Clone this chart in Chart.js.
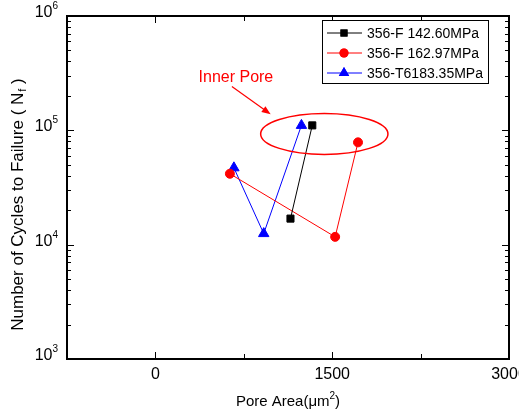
<!DOCTYPE html>
<html>
<head>
<meta charset="utf-8">
<script src="https://cdn.jsdelivr.net/npm/chart.js@4/dist/chart.umd.min.js"></script>
<style>
body{margin:0;background:#fff;}
#c{display:block;}
</style>
</head>
<body>
<canvas id="c" width="519" height="420"></canvas>
<script>
// series
const seriesNames = ['356-F 142.60MPa', '356-F 162.97MPa', '356-T6183.35MPa'];
const blackX = [1146, 1331];
const blackY = [16900, 110500];
const redX = [632, 1525, 1719];
const redY = [41700, 11700, 78500];
const blueX = [666, 919, 1239];
const blueY = [47000, 12500, 110500];

// axes
const xMajor = [0, 1500, 3000];
const xMinor = [750, 2250];
const yMajor = [1e3, 1e4, 1e5, 1e6];
const yExp = ['3', '4', '5', '6'];

// the red note, in data units
const noteText = 'Inner Pore';
const notePos = [683, 290000];
const arrowFrom = [649, 242000];
const arrowTo = [978, 138000];
const ringCenter = [1433, 93000];
const ringX = [893, 1973];
const ringY = [61700, 140700];

function pts(xs, ys){
    let out = [];
    for(let i=0;i<xs.length;i++) out.push({x: xs[i], y: ys[i]});
    return out;
}

const F = '"Liberation Sans", Arial, sans-serif';

const decor = {
    id: 'decor',
    afterDraw(chart){
        const ctx = chart.ctx;
        const a = chart.chartArea;
        const xs = chart.scales.x, ys = chart.scales.y;
        ctx.save();

        // ring and arrow
        ctx.strokeStyle = '#ff0000';
        ctx.lineWidth = 1.5;
        let cx = xs.getPixelForValue(ringCenter[0]);
        let cy = ys.getPixelForValue(ringCenter[1]);
        let rx = (xs.getPixelForValue(ringX[1]) - xs.getPixelForValue(ringX[0]))/2;
        let ry = (ys.getPixelForValue(ringY[0]) - ys.getPixelForValue(ringY[1]))/2;
        ctx.beginPath();
        ctx.ellipse(cx, cy, rx, ry, 0, 0, Math.PI*2);
        ctx.stroke();

        let x1 = xs.getPixelForValue(arrowFrom[0]), y1 = ys.getPixelForValue(arrowFrom[1]);
        let x2 = xs.getPixelForValue(arrowTo[0]), y2 = ys.getPixelForValue(arrowTo[1]);
        let ang = Math.atan2(y2-y1, x2-x1);
        ctx.lineWidth = 1.2;
        ctx.beginPath();
        ctx.moveTo(x1, y1);
        ctx.lineTo(x2 - 6*Math.cos(ang), y2 - 6*Math.sin(ang));
        ctx.stroke();
        ctx.fillStyle = '#ff0000';
        ctx.beginPath();
        ctx.moveTo(x2, y2);
        ctx.lineTo(x2 - 9*Math.cos(ang) + 3.5*Math.sin(ang), y2 - 9*Math.sin(ang) - 3.5*Math.cos(ang));
        ctx.lineTo(x2 - 9*Math.cos(ang) - 3.5*Math.sin(ang), y2 - 9*Math.sin(ang) + 3.5*Math.cos(ang));
        ctx.closePath();
        ctx.fill();

        ctx.font = '16px ' + F;
        ctx.textAlign = 'center';
        ctx.textBaseline = 'middle';
        ctx.fillText(noteText, xs.getPixelForValue(notePos[0]), ys.getPixelForValue(notePos[1]));

        // frame
        ctx.strokeStyle = '#000';
        ctx.lineWidth = 2;
        ctx.strokeRect(a.left, a.top, a.right - a.left, a.bottom - a.top);

        // x ticks, inward on bottom and top
        ctx.lineWidth = 1;
        xMajor.concat(xMinor).forEach(v => {
            let px = Math.round(xs.getPixelForValue(v)) + 0.5;
            let len = xMajor.includes(v) ? 7 : 5;
            ctx.beginPath();
            ctx.moveTo(px, a.bottom); ctx.lineTo(px, a.bottom - len);
            ctx.moveTo(px, a.top); ctx.lineTo(px, a.top + len);
            ctx.stroke();
        });
        // y ticks, log decades with minors
        for(let d=0; d<yMajor.length; d++){
            for(let m=1; m<10; m++){
                let v = yMajor[d]*m;
                if(v > yMajor[yMajor.length-1]) break;
                let py = Math.round(ys.getPixelForValue(v)) + 0.5;
                let len = m == 1 ? 7 : 4;
                ctx.beginPath();
                ctx.moveTo(a.left, py); ctx.lineTo(a.left + len, py);
                ctx.moveTo(a.right, py); ctx.lineTo(a.right - len, py);
                ctx.stroke();
            }
        }

        // tick labels
        ctx.fillStyle = '#000';
        ctx.font = '16px ' + F;
        ctx.textAlign = 'center';
        ctx.textBaseline = 'middle';
        xMajor.forEach(v => {
            ctx.fillText(String(v), xs.getPixelForValue(v), a.bottom + 16);
        });
        yMajor.forEach((v, i) => {
            let py = ys.getPixelForValue(v);
            ctx.font = '10px ' + F;
            let ew = ctx.measureText(yExp[i]).width;
            ctx.textAlign = 'right';
            ctx.textBaseline = 'alphabetic';
            ctx.fillText(yExp[i], a.left - 9, py - 7);
            ctx.font = '16px ' + F;
            ctx.fillText('10', a.left - 9 - ew, py + 1);
        });

        // x title
        ctx.font = '15px ' + F;
        ctx.textAlign = 'left';
        ctx.textBaseline = 'alphabetic';
        let t1 = 'Pore Area(\u03bcm', t2 = '2', t3 = ')';
        let w1 = ctx.measureText(t1).width, w3 = ctx.measureText(t3).width;
        ctx.font = '10px ' + F;
        let w2 = ctx.measureText(t2).width;
        let sx = 288 - (w1 + w2 + w3)/2, by = 406;
        ctx.font = '15px ' + F;
        ctx.fillText(t1, sx, by);
        ctx.font = '10px ' + F;
        ctx.fillText(t2, sx + w1, by - 7);
        ctx.font = '15px ' + F;
        ctx.fillText(t3, sx + w1 + w2, by);

        // y title
        ctx.save();
        ctx.translate(23, 205);
        ctx.rotate(-Math.PI/2);
        let s1 = 'Number of Cycles to Failure ( N', s2 = 'f', s3 = ' )';
        ctx.font = '17px ' + F;
        let u1 = ctx.measureText(s1).width, u3 = ctx.measureText(s3).width;
        ctx.font = '11px ' + F;
        let u2 = ctx.measureText(s2).width;
        let st = -(u1 + u2 + u3)/2;
        ctx.font = '17px ' + F;
        ctx.fillText(s1, st, 0);
        ctx.font = '11px ' + F;
        ctx.fillText(s2, st + u1 + 1, 3);
        ctx.font = '17px ' + F;
        ctx.fillText(s3, st + u1 + u2 + 1, 0);
        ctx.restore();

        // legend box
        const lx = 322, ly = 20, lw = 166, lh = 63;
        ctx.fillStyle = '#fff';
        ctx.fillRect(lx, ly, lw, lh);
        ctx.lineWidth = 1;
        ctx.strokeStyle = '#000';
        ctx.strokeRect(lx + 0.5, ly + 0.5, lw, lh);
        ctx.font = '14px ' + F;
        ctx.textAlign = 'left';
        ctx.textBaseline = 'middle';
        chart.data.datasets.forEach((ds, i) => {
            let yy = ly + 13 + i*20;
            ctx.strokeStyle = ds.borderColor;
            ctx.beginPath();
            ctx.moveTo(lx + 5, yy); ctx.lineTo(lx + 40, yy);
            ctx.stroke();
            ctx.fillStyle = ds.backgroundColor;
            Chart.helpers.drawPoint(ctx, {pointStyle: ds.pointStyle, radius: ds.pointRadius, borderWidth: 0}, lx + 22, yy);
            ctx.fill();
            ctx.fillStyle = '#000';
            ctx.fillText(ds.label, lx + 45, yy + 1);
        });
        ctx.restore();
    }
};

new Chart(document.getElementById('c'), {
    type: 'scatter',
    data: {
        datasets: [
            {label: seriesNames[0], data: pts(blackX, blackY), showLine: true, borderColor: '#000000', backgroundColor: '#000000', borderWidth: 1, pointStyle: 'rect', pointRadius: 5},
            {label: seriesNames[1], data: pts(redX, redY), showLine: true, borderColor: '#ff0000', backgroundColor: '#ff0000', borderWidth: 1, pointStyle: 'circle', pointRadius: 4.5},
            {label: seriesNames[2], data: pts(blueX, blueY), showLine: true, borderColor: '#0000ff', backgroundColor: '#0000ff', borderWidth: 1, pointStyle: 'triangle', pointRadius: 6}
        ]
    },
    options: {
        responsive: false,
        animation: false,
        layout: {padding: {left: 67, right: 10, top: 16, bottom: 61}},
        plugins: {legend: {display: false}, tooltip: {enabled: false}},
        scales: {
            x: {type: 'linear', min: -750, max: 3000, display: false},
            y: {type: 'logarithmic', min: 1e3, max: 1e6, display: false}
        }
    },
    plugins: [decor]
});
</script>
</body>
</html>
